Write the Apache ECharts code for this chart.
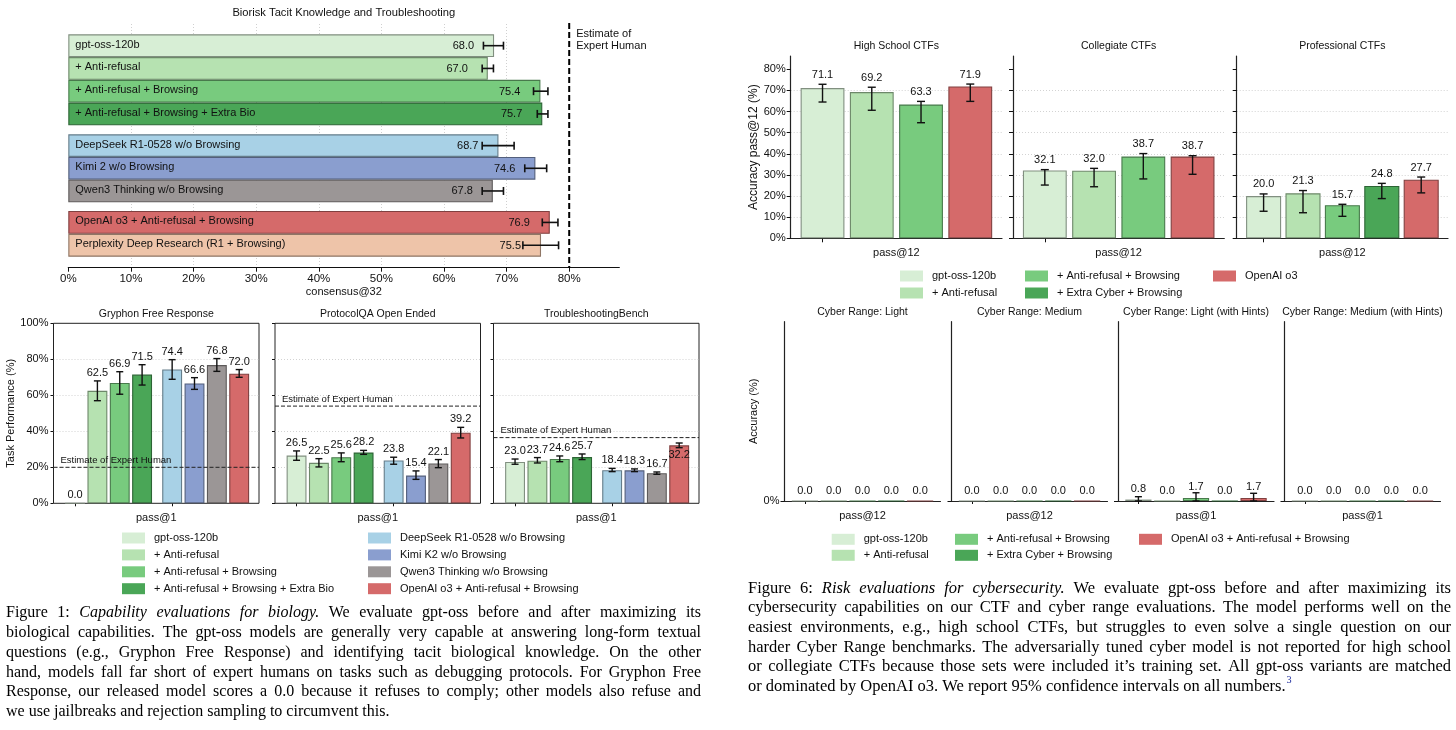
<!DOCTYPE html>
<html>
<head>
<meta charset="utf-8">
<script src="https://cdn.jsdelivr.net/npm/echarts@6/dist/echarts.min.js"></script>
<style>
html,body{margin:0;padding:0;background:#ffffff;}
#chart{width:1456px;height:730px;}
</style>
</head>
<body>
<div id="chart"></div>
<script>
// ================= DATA =================
// --- Biorisk Tacit Knowledge and Troubleshooting (horizontal bars) ---
const tacitTitle = 'Biorisk Tacit Knowledge and Troubleshooting';
const tacitXName = 'consensus@32';
const tacitTickValues = [0, 10, 20, 30, 40, 50, 60, 70, 80];
const tacitGroup1 = ['gpt-oss-120b', '+ Anti-refusal', '+ Anti-refusal + Browsing', '+ Anti-refusal + Browsing + Extra Bio'];
const tacitValues1 = [68.0, 67.0, 75.4, 75.7];
const tacitErrLow1 = [66.3, 66.1, 74.3, 74.9];
const tacitErrHigh1 = [69.5, 67.9, 76.6, 76.6];
const tacitGroup2 = ['DeepSeek R1-0528 w/o Browsing', 'Kimi 2 w/o Browsing', 'Qwen3 Thinking w/o Browsing'];
const tacitValues2 = [68.7, 74.6, 67.8];
const tacitErrLow2 = [66.1, 72.9, 66.1];
const tacitErrHigh2 = [71.2, 76.4, 69.5];
const tacitGroup3 = ['OpenAI o3 + Anti-refusal + Browsing', 'Perplexity Deep Research (R1 + Browsing)'];
const tacitValues3 = [76.9, 75.5];
const tacitErrLow3 = [75.7, 72.6];
const tacitErrHigh3 = [78.2, 78.3];
const tacitExpert = 80;

// --- Biology panels (vertical bars) ---
const bioTitles = ['Gryphon Free Response', 'ProtocolQA Open Ended', 'TroubleshootingBench'];
const bioXName = 'pass@1';
const bioYName = 'Task Performance (%)';
const bioTickValues = [0, 20, 40, 60, 80, 100];
const bioGptModels = ['gpt-oss-120b', '+ Anti-refusal', '+ Anti-refusal + Browsing', '+ Anti-refusal + Browsing + Extra Bio'];
const bioOtherModels = ['DeepSeek R1-0528 w/o Browsing', 'Kimi K2 w/o Browsing', 'Qwen3 Thinking w/o Browsing', 'OpenAI o3 + Anti-refusal + Browsing'];
const gryphonValues = [0.0, 62.5, 66.9, 71.5, 74.4, 66.6, 76.8, 72.0];
const gryphonErrLow = [null, 57.0, 60.6, 65.7, 68.9, 63.3, 73.3, 70.0];
const gryphonErrHigh = [null, 68.0, 73.1, 77.0, 79.8, 69.8, 80.4, 74.3];
const protocolValues = [26.5, 22.5, 25.6, 28.2, 23.8, 15.4, 22.1, 39.2];
const protocolErrLow = [23.9, 20.2, 23.1, 27.2, 21.7, 13.3, 19.8, 36.3];
const protocolErrHigh = [29.1, 24.8, 28.0, 29.4, 25.6, 18.0, 24.3, 42.2];
const troubleValues = [23.0, 23.7, 24.6, 25.7, 18.4, 18.3, 16.7, 32.2];
const troubleErrLow = [21.7, 22.4, 23.1, 24.3, 17.6, 17.6, 16.1, 30.9];
const troubleErrHigh = [24.6, 25.4, 26.3, 27.4, 19.4, 19.1, 17.4, 33.5];
const bioExpert = [20, 54, 36.5];
const expertText = 'Estimate of Expert Human';

// --- CTF panels ---
const ctfTitles = ['High School CTFs', 'Collegiate CTFs', 'Professional CTFs'];
const ctfXName = 'pass@12';
const ctfYName = 'Accuracy pass@12 (%)';
const ctfTickValues = [0, 10, 20, 30, 40, 50, 60, 70, 80];
const hsModels = ['gpt-oss-120b', '+ Anti-refusal', '+ Anti-refusal + Browsing', 'OpenAI o3'];
const hsValues = [71.1, 69.2, 63.3, 71.9];
const hsErrLow = [64.5, 60.6, 54.7, 64.8];
const hsErrHigh = [72.9, 71.5, 64.8, 73.0];
const collegiateModels = ['gpt-oss-120b', '+ Anti-refusal', '+ Anti-refusal + Browsing', 'OpenAI o3'];
const collegiateValues = [32.1, 32.0, 38.7, 38.7];
const collegiateErrLow = [25.2, 24.4, 28.1, 30.3];
const collegiateErrHigh = [32.5, 33.1, 40.1, 39.1];
const proModels = ['gpt-oss-120b', '+ Anti-refusal', '+ Anti-refusal + Browsing', '+ Extra Cyber + Browsing', 'OpenAI o3'];
const proValues = [20.0, 21.3, 15.7, 24.8, 27.7];
const proErrLow = [12.8, 12.1, 10.4, 18.8, 21.5];
const proErrHigh = [21.0, 22.6, 16.1, 26.0, 29.0];

// --- Cyber range panels ---
const rangeTitles = ['Cyber Range: Light', 'Cyber Range: Medium', 'Cyber Range: Light (with Hints)', 'Cyber Range: Medium (with Hints)'];
const rangeXNames = ['pass@12', 'pass@12', 'pass@1', 'pass@1'];
const rangeYName = 'Accuracy (%)';
const rangeTickValues = [0];
const rangeModels = ['gpt-oss-120b', '+ Anti-refusal', '+ Anti-refusal + Browsing', '+ Extra Cyber + Browsing', 'OpenAI o3 + Anti-refusal + Browsing'];
const rangeLightValues = [0.0, 0.0, 0.0, 0.0, 0.0];
const rangeMediumValues = [0.0, 0.0, 0.0, 0.0, 0.0];
const rangeLightHintsValues = [0.8, 0.0, 1.7, 0.0, 1.7];
const rangeLightHintsErrLow = [0.0, null, 0.0, null, 0.0];
const rangeLightHintsErrHigh = [2.4, null, 4.6, null, 4.3];
const rangeMediumHintsValues = [0.0, 0.0, 0.0, 0.0, 0.0];
const rangeNoErr = [null, null, null, null, null];

// --- Legends ---
const bioLegendCol1 = ['gpt-oss-120b', '+ Anti-refusal', '+ Anti-refusal + Browsing', '+ Anti-refusal + Browsing + Extra Bio'];
const bioLegendCol2 = ['DeepSeek R1-0528 w/o Browsing', 'Kimi K2 w/o Browsing', 'Qwen3 Thinking w/o Browsing', 'OpenAI o3 + Anti-refusal + Browsing'];
const ctfLegendCols = [['gpt-oss-120b', '+ Anti-refusal'], ['+ Anti-refusal + Browsing', '+ Extra Cyber + Browsing'], ['OpenAI o3']];
const rangeLegendCols = [['gpt-oss-120b', '+ Anti-refusal'], ['+ Anti-refusal + Browsing', '+ Extra Cyber + Browsing'], ['OpenAI o3 + Anti-refusal + Browsing']];

// --- Captions ---
const captionLeft = [
  'Figure 1: *Capability evaluations for biology.* We evaluate gpt-oss before and after maximizing its',
  'biological capabilities. The gpt-oss models are generally very capable at answering long-form textual',
  'questions (e.g., Gryphon Free Response) and identifying tacit biological knowledge. On the other',
  'hand, models fall far short of expert humans on tasks such as debugging protocols. For Gryphon Free',
  'Response, our released model scores a 0.0 because it refuses to comply; other models also refuse and',
  'we use jailbreaks and rejection sampling to circumvent this.'
];
const captionRight = [
  'Figure 6: *Risk evaluations for cybersecurity.* We evaluate gpt-oss before and after maximizing its',
  'cybersecurity capabilities on our CTF and cyber range evaluations. The model performs well on the',
  'easiest environments, e.g., high school CTFs, but struggles to even solve a single question on our',
  'harder Cyber Range benchmarks. The adversarially tuned cyber model is not reported for high school',
  'or collegiate CTFs because those sets were included it\u2019s training set. All gpt-oss variants are matched',
  'or dominated by OpenAI o3. We report 95% confidence intervals on all numbers.^3'
];

// ================= STYLE =================
const FONT = '"Liberation Sans", Arial, sans-serif';
const SERIF = '"Liberation Serif", "Times New Roman", serif';
const INK = '#111111';
const COLORS = {
  'gpt-oss-120b': '#d7eed5',
  '+ Anti-refusal': '#b6e2b1',
  '+ Anti-refusal + Browsing': '#78cb7e',
  '+ Anti-refusal + Browsing + Extra Bio': '#4aa657',
  '+ Extra Cyber + Browsing': '#4aa657',
  'DeepSeek R1-0528 w/o Browsing': '#a8d1e6',
  'Kimi 2 w/o Browsing': '#8a9ecf',
  'Kimi K2 w/o Browsing': '#8a9ecf',
  'Qwen3 Thinking w/o Browsing': '#9b9696',
  'OpenAI o3 + Anti-refusal + Browsing': '#d56a6a',
  'OpenAI o3': '#d56a6a',
  'Perplexity Deep Research (R1 + Browsing)': '#eec4a9'
};
function darken(hex, f) {
  const n = parseInt(hex.slice(1), 16);
  const r = Math.round(((n >> 16) & 255) * f), g = Math.round(((n >> 8) & 255) * f), b = Math.round((n & 255) * f);
  return 'rgb(' + r + ',' + g + ',' + b + ')';
}

const grids = [], xAxes = [], yAxes = [], series = [], titles = [], legends = [];
function addGrid(rect, xAxis, yAxis) {
  const i = grids.length;
  grids.push(Object.assign({ show: false, containLabel: false, outerBoundsMode: 'none' }, rect));
  xAxes.push(Object.assign({ gridIndex: i }, xAxis));
  yAxes.push(Object.assign({ gridIndex: i }, yAxis));
  return i;
}
function addTitle(text, cx, cy, size) {
  const fs = size || 10.5;
  titles.push({ text, left: cx, top: cy - fs * 0.62, textAlign: 'center', padding: 0,
    textStyle: { fontSize: fs, fontWeight: 'normal', color: INK, fontFamily: FONT } });
}
const nameStyle = { fontSize: 11, color: INK, fontFamily: FONT };
function barItems(names, values) {
  return values.map((v, i) => ({ value: v, itemStyle: { color: COLORS[names[i]], borderColor: darken(COLORS[names[i]], 0.6), borderWidth: 1.1 } }));
}

// error bars + labels for horizontal bars
function hErrRender(params, api) {
  const v = api.value(0), ci = api.value(1), lo = api.value(2), hi = api.value(3);
  const p = api.coord([v, ci]);
  const a = api.coord([lo, ci]), b = api.coord([hi, ci]);
  const cap = 4, st = { stroke: INK, lineWidth: 1.6 };
  return { type: 'group', children: [
    { type: 'line', shape: { x1: a[0], y1: p[1], x2: b[0], y2: p[1] }, style: st },
    { type: 'line', shape: { x1: a[0], y1: p[1] - cap, x2: a[0], y2: p[1] + cap }, style: st },
    { type: 'line', shape: { x1: b[0], y1: p[1] - cap, x2: b[0], y2: p[1] + cap }, style: st },
    { type: 'text', style: { text: v.toFixed(1), x: p[0] - 20, y: p[1] + 0.5, align: 'right', verticalAlign: 'middle', fontSize: 11, fontFamily: FONT, fill: INK } }
  ] };
}
// error bars + labels for vertical bars
function vErrRenderer(cfg) {
  return function (params, api) {
    const ci = api.value(0), v = api.value(1), lo = api.value(2), hi = api.value(3);
    const p = api.coord([ci, v]);
    const st = { stroke: INK, lineWidth: cfg.lw };
    const ch = [];
    let top = p[1];
    if (!isNaN(lo) && !isNaN(hi) && lo !== null && hi !== null) {
      const a = api.coord([ci, lo]), b = api.coord([ci, hi]);
      ch.push({ type: 'line', shape: { x1: p[0], y1: a[1], x2: p[0], y2: b[1] }, style: st });
      ch.push({ type: 'line', shape: { x1: p[0] - cfg.cap, y1: a[1], x2: p[0] + cfg.cap, y2: a[1] }, style: st });
      ch.push({ type: 'line', shape: { x1: p[0] - cfg.cap, y1: b[1], x2: p[0] + cfg.cap, y2: b[1] }, style: st });
      if (cfg.mode === 'err') top = Math.min(top, b[1]);
    }
    let ty = top - cfg.gap, va = 'bottom';
    if (cfg.inside && cfg.inside.indexOf(params.dataIndex) >= 0) { ty = p[1] + 4; va = 'top'; }
    ch.push({ type: 'text', style: { text: v.toFixed(1), x: p[0], y: ty, align: 'center', verticalAlign: va, fontSize: 11, fontFamily: FONT, fill: INK } });
    return { type: 'group', children: ch };
  };
}
function errData(values, lo, hi) {
  return values.map((v, i) => [i, v, lo[i] == null ? '-' : lo[i], hi[i] == null ? '-' : hi[i]]);
}

// ================= TOP-LEFT: tacit knowledge =================
(function () {
  const L = 68.3, R = 619.3, T = 24, B = 267.7, XMAX = 88;
  const f = addGrid({ left: L, top: T, width: R - L, height: B - T },
    { type: 'value', min: 0, max: XMAX, interval: 10,
      axisLine: { show: true, lineStyle: { color: INK, width: 1.2 } },
      axisTick: { show: true, customValues: tacitTickValues, length: 4, lineStyle: { color: INK } },
      axisLabel: { show: true, customValues: tacitTickValues, formatter: '{value}%', margin: 5, fontSize: 11.5, color: INK, fontFamily: FONT },
      splitLine: { show: true, showMinLine: false, showMaxLine: false, lineStyle: { type: [1, 2], color: '#c4c4c4', width: 0.8 } },
      name: tacitXName, nameLocation: 'middle', nameGap: 19, nameTextStyle: nameStyle },
    { type: 'value', min: 0, max: 1, show: false });
  addTitle(tacitTitle, (L + R) / 2, 14, 11.2);
  series.push({ type: 'custom', xAxisIndex: f, yAxisIndex: f, data: [[tacitExpert, 0]], clip: false, z: 6, silent: true,
    renderItem: function (params, api) {
      const x = api.coord([api.value(0), 0])[0];
      const cs = params.coordSys;
      return { type: 'group', children: [
        { type: 'line', shape: { x1: x, y1: cs.y - 1, x2: x, y2: cs.y + cs.height }, style: { stroke: '#000', lineWidth: 2, lineDash: [6, 3] } },
        { type: 'text', style: { text: 'Estimate of\nExpert Human', x: x + 7, y: cs.y + 3.5, align: 'left', verticalAlign: 'top', fontSize: 11, lineHeight: 12.5, fontFamily: FONT, fill: INK } }
      ] };
    } });
  const groups = [
    { names: tacitGroup1, values: tacitValues1, lo: tacitErrLow1, hi: tacitErrHigh1, top: 34.3, bottom: 125.3 },
    { names: tacitGroup2, values: tacitValues2, lo: tacitErrLow2, hi: tacitErrHigh2, top: 134.3, bottom: 202.3 },
    { names: tacitGroup3, values: tacitValues3, lo: tacitErrLow3, hi: tacitErrHigh3, top: 211, bottom: 256.7 }
  ];
  groups.forEach(function (g) {
    const gi = addGrid({ left: L, top: g.top, width: R - L, height: g.bottom - g.top },
      { type: 'value', min: 0, max: XMAX, show: false },
      { type: 'category', data: g.names, inverse: true, show: false });
    series.push({ type: 'bar', xAxisIndex: gi, yAxisIndex: gi, barCategoryGap: '0%', z: 3, silent: true,
      data: barItems(g.names, g.values),
      label: { show: true, position: 'insideLeft', distance: 7, formatter: '{b}', fontSize: 11, color: INK, fontFamily: FONT, offset: [0, -1] } });
    series.push({ type: 'custom', xAxisIndex: gi, yAxisIndex: gi, z: 6, clip: false, silent: true,
      data: g.values.map(function (v, i) { return [v, i, g.lo[i], g.hi[i]]; }),
      renderItem: hErrRender });
  });
})();

// ================= BOTTOM-LEFT: biology panels =================
(function () {
  const panels = [
    { values: gryphonValues, lo: gryphonErrLow, hi: gryphonErrHigh, inside: [] },
    { values: protocolValues, lo: protocolErrLow, hi: protocolErrHigh, inside: [] },
    { values: troubleValues, lo: troubleErrLow, hi: troubleErrHigh, inside: [7] }
  ];
  const lefts = [53.5, 275, 493.5], W = 205.5, T = 323.3, H = 180;
  const allModels = bioGptModels.concat(bioOtherModels);
  panels.forEach(function (p, k) {
    const L = lefts[k];
    const f = addGrid({ left: L, top: T, width: W, height: H, show: true, borderColor: '#222', borderWidth: 1, backgroundColor: 'transparent' },
      { type: 'value', min: 0, max: 1, axisLine: { show: false }, axisTick: { show: false }, axisLabel: { show: false }, splitLine: { show: false },
        name: bioXName, nameLocation: 'middle', nameGap: 9, nameTextStyle: nameStyle },
      { type: 'value', min: 0, max: 100, interval: 20, axisLine: { show: false },
        axisTick: { show: true, length: 3, lineStyle: { color: INK } },
        axisLabel: { show: k === 0, formatter: '{value}%', margin: 5, fontSize: 11, color: INK, fontFamily: FONT },
        splitLine: { show: true, showMinLine: false, showMaxLine: false, lineStyle: { type: [1, 2], color: '#c8c8c8', width: 0.8 } },
        name: k === 0 ? bioYName : '', nameLocation: 'middle', nameRotate: 90, nameGap: 33, nameTextStyle: nameStyle });
    addTitle(bioTitles[k], L + W / 2, 315);
    series.push({ type: 'custom', xAxisIndex: f, yAxisIndex: f, data: [[0.5, bioExpert[k]]], clip: false, z: 7, silent: true,
      renderItem: function (params, api) {
        const y = api.coord([0, api.value(1)])[1];
        const cs = params.coordSys;
        return { type: 'group', children: [
          { type: 'line', shape: { x1: cs.x, y1: y, x2: cs.x + cs.width, y2: y }, style: { stroke: '#222', lineWidth: 1, lineDash: [4, 2] } },
          { type: 'text', style: { text: expertText, x: cs.x + 7, y: y - 2, align: 'left', verticalAlign: 'bottom', fontSize: 9.5, fontFamily: FONT, fill: INK } }
        ] };
      } });
    [[0, 4, 0.0505], [4, 8, 0.523]].forEach(function (g) {
      const names = allModels.slice(g[0], g[1]);
      const vals = p.values.slice(g[0], g[1]), lo = p.lo.slice(g[0], g[1]), hi = p.hi.slice(g[0], g[1]);
      const inside = p.inside.filter(function (i) { return i >= g[0] && i < g[1]; }).map(function (i) { return i - g[0]; });
      const gi = addGrid({ left: L + g[2] * W, top: T, width: 0.435 * W, height: H },
        { type: 'category', data: names, axisLine: { show: false },
          axisTick: { show: true, alignWithLabel: true, length: 3, lineStyle: { color: INK } },
          axisLabel: { show: false }, splitLine: { show: false } },
        { type: 'value', min: 0, max: 100, show: false });
      series.push({ type: 'bar', xAxisIndex: gi, yAxisIndex: gi, barCategoryGap: '11%', z: 3, silent: true, data: barItems(names, vals) });
      series.push({ type: 'custom', xAxisIndex: gi, yAxisIndex: gi, z: 6, clip: false, silent: true,
        data: errData(vals, lo, hi), renderItem: vErrRenderer({ lw: 1.4, cap: 3.5, mode: 'err', gap: 2.5, inside: inside }) });
    });
  });
  legends.push({ data: bioLegendCol1, left: 122, top: 538 - 6.5, itemGap: 3.9 });
  legends.push({ data: bioLegendCol2, left: 368, top: 538 - 6.5, itemGap: 3.9 });
})();

// ================= TOP-RIGHT: CTF panels =================
(function () {
  const panels = [
    { models: hsModels, values: hsValues, lo: hsErrLow, hi: hsErrHigh },
    { models: collegiateModels, values: collegiateValues, lo: collegiateErrLow, hi: collegiateErrHigh },
    { models: proModels, values: proValues, lo: proErrLow, hi: proErrHigh }
  ];
  const lefts = [790.7, 1013, 1236.7], W = 211.3, T = 56, H = 182.3, YMAX = 86.28;
  panels.forEach(function (p, k) {
    const L = lefts[k];
    const f = addGrid({ left: L, top: T, width: W, height: H },
      { type: 'value', min: 0, max: 1, axisLine: { show: true, lineStyle: { color: '#222', width: 1.2 } }, axisTick: { show: false }, axisLabel: { show: false }, splitLine: { show: false },
        name: ctfXName, nameLocation: 'middle', nameGap: 9, nameTextStyle: nameStyle },
      { type: 'value', min: 0, max: YMAX, interval: 10,
        axisLine: { show: true, lineStyle: { color: '#222', width: 1.2 } },
        axisTick: { show: true, customValues: ctfTickValues, length: 4, lineStyle: { color: INK } },
        axisLabel: { show: k === 0, customValues: ctfTickValues, formatter: '{value}%', margin: 5, fontSize: 11, color: INK, fontFamily: FONT },
        splitLine: { show: true, showMinLine: false, showMaxLine: false, lineStyle: { type: [1, 2], color: '#c8c8c8', width: 0.8 } },
        name: k === 0 ? ctfYName : '', nameLocation: 'middle', nameRotate: 90, nameGap: 29, nameTextStyle: { fontSize: 12, color: INK, fontFamily: FONT } });
    addTitle(ctfTitles[k], L + W / 2, 47);
    const gi = addGrid({ left: L + 7.2, top: T, width: 197, height: H },
      { type: 'category', data: p.models, axisLine: { show: false },
        axisTick: { show: true, alignWithLabel: true, length: 4, lineStyle: { color: INK } },
        axisLabel: { show: false }, splitLine: { show: false } },
      { type: 'value', min: 0, max: YMAX, show: false });
    series.push({ type: 'bar', xAxisIndex: gi, yAxisIndex: gi, barCategoryGap: '11%', z: 3, silent: true, data: barItems(p.models, p.values) });
    series.push({ type: 'custom', xAxisIndex: gi, yAxisIndex: gi, z: 6, clip: false, silent: true,
      data: errData(p.values, p.lo, p.hi), renderItem: vErrRenderer({ lw: 1.4, cap: 4, mode: 'err', gap: 4 }) });
  });
  const colLefts = [900, 1025, 1213];
  ctfLegendCols.forEach(function (c, i) { legends.push({ data: c, left: colLefts[i], top: 276 - 6.5, itemGap: 4 }); });
})();

// ================= BOTTOM-RIGHT: cyber range panels =================
(function () {
  const panels = [
    { values: rangeLightValues, lo: rangeNoErr, hi: rangeNoErr },
    { values: rangeMediumValues, lo: rangeNoErr, hi: rangeNoErr },
    { values: rangeLightHintsValues, lo: rangeLightHintsErrLow, hi: rangeLightHintsErrHigh },
    { values: rangeMediumHintsValues, lo: rangeNoErr, hi: rangeNoErr }
  ];
  const lefts = [784.5, 951.5, 1118, 1284.5], W = 156, T = 321.7, H = 179.3;
  panels.forEach(function (p, k) {
    const L = lefts[k];
    const f = addGrid({ left: L, top: T, width: W, height: H },
      { type: 'value', min: 0, max: 1, axisLine: { show: true, lineStyle: { color: '#222', width: 1.2 } }, axisTick: { show: false }, axisLabel: { show: false }, splitLine: { show: false },
        name: rangeXNames[k], nameLocation: 'middle', nameGap: 9, nameTextStyle: nameStyle },
      { type: 'value', min: 0, max: 100,
        axisLine: { show: true, lineStyle: { color: '#222', width: 1.2 } },
        axisTick: { show: true, customValues: rangeTickValues, length: 4, lineStyle: { color: INK } },
        axisLabel: { show: k === 0, customValues: rangeTickValues, formatter: '{value}%', margin: 5, fontSize: 11, color: INK, fontFamily: FONT },
        splitLine: { show: false },
        name: k === 0 ? rangeYName : '', nameLocation: 'middle', nameRotate: 90, nameGap: 23, nameTextStyle: nameStyle });
    addTitle(rangeTitles[k], L + W / 2, 313.3);
    const gi = addGrid({ left: L + 6, top: T, width: 144, height: H },
      { type: 'category', data: rangeModels, axisLine: { show: false },
        axisTick: { show: true, alignWithLabel: true, length: 3, lineStyle: { color: INK } },
        axisLabel: { show: false }, splitLine: { show: false } },
      { type: 'value', min: 0, max: 100, show: false });
    series.push({ type: 'bar', xAxisIndex: gi, yAxisIndex: gi, barCategoryGap: '9%', z: 3, silent: true, data: barItems(rangeModels, p.values) });
    series.push({ type: 'custom', xAxisIndex: gi, yAxisIndex: gi, z: 6, clip: false, silent: true,
      data: errData(p.values, p.lo, p.hi), renderItem: vErrRenderer({ lw: 1.4, cap: 3.5, mode: 'value', gap: 5 }) });
  });
  const colLefts = [831.7, 955, 1139];
  rangeLegendCols.forEach(function (c, i) { legends.push({ data: c, left: colLefts[i], top: 539.3 - 6.5, itemGap: 3 }); });
})();

// ================= legend proxies =================
(function () {
  const gi = addGrid({ left: 0, top: 0, width: 1, height: 1 }, { type: 'category', data: ['x'], show: false }, { type: 'value', show: false });
  const names = [];
  legends.forEach(function (l) { l.data.forEach(function (n) { if (names.indexOf(n) < 0) names.push(n); }); });
  names.forEach(function (n) {
    series.push({ type: 'bar', name: n, xAxisIndex: gi, yAxisIndex: gi, data: [], itemStyle: { color: COLORS[n] } });
  });
  legends.forEach(function (l) {
    Object.assign(l, { orient: 'vertical', padding: 0, itemWidth: 23, itemHeight: 11, icon: 'rect', selectedMode: false,
      itemStyle: { borderWidth: 0 },
      textStyle: { fontSize: 11, color: INK, fontFamily: FONT, lineHeight: 13, padding: [0, 0, 0, 4] } });
  });
})();

// ================= captions =================
function captionElements(lines, x0, x1, y0, lh, size) {
  const ctx = document.createElement('canvas').getContext('2d');
  const out = [];
  ctx.font = size + 'px ' + SERIF;
  const spaceW = ctx.measureText(' ').width;
  lines.forEach(function (line, li) {
    let italic = false;
    const words = [];
    line.split(' ').forEach(function (tok) {
      let t = tok;
      if (t.charAt(0) === '*') { italic = true; t = t.slice(1); }
      let endIt = false;
      if (t.charAt(t.length - 1) === '*') { endIt = true; t = t.slice(0, -1); }
      let sup = null;
      const k = t.indexOf('^');
      if (k >= 0) { sup = t.slice(k + 1); t = t.slice(0, k); }
      words.push({ t: t, it: italic, sup: sup });
      if (endIt) italic = false;
    });
    let total = 0;
    words.forEach(function (w) {
      ctx.font = (w.it ? 'italic ' : '') + size + 'px ' + SERIF;
      w.w = ctx.measureText(w.t).width;
      w.sw = 0;
      if (w.sup) { ctx.font = (size * 0.62) + 'px ' + SERIF; w.sw = ctx.measureText(w.sup).width + 1; }
      total += w.w + w.sw;
    });
    const last = li === lines.length - 1;
    const gap = last ? spaceW : (x1 - x0 - total) / (words.length - 1);
    let x = x0;
    const y = y0 + li * lh;
    words.forEach(function (w) {
      out.push({ type: 'text', x: x, y: y, silent: true,
        style: { text: w.t, fontSize: size, fontFamily: SERIF, fontStyle: w.it ? 'italic' : 'normal', fill: '#000', verticalAlign: 'middle', align: 'left' } });
      x += w.w;
      if (w.sup) {
        out.push({ type: 'text', x: x + 1, y: y - 6, silent: true,
          style: { text: w.sup, fontSize: size * 0.62, fontFamily: SERIF, fill: '#1c2a9c', verticalAlign: 'middle', align: 'left' } });
        x += w.sw;
      }
      x += gap;
    });
  });
  return out;
}
const graphics = captionElements(captionLeft, 6, 701, 613, 19.8, 16)
  .concat(captionElements(captionRight, 748, 1451, 588.5, 19.6, 16.5));

// ================= chart =================
const chart = echarts.init(document.getElementById('chart'), null, { renderer: 'canvas' });
chart.setOption({
  animation: false,
  backgroundColor: '#ffffff',
  textStyle: { fontFamily: FONT },
  title: titles,
  legend: legends,
  grid: grids,
  xAxis: xAxes,
  yAxis: yAxes,
  series: series,
  graphic: { elements: graphics }
});
</script>
</body>
</html>
